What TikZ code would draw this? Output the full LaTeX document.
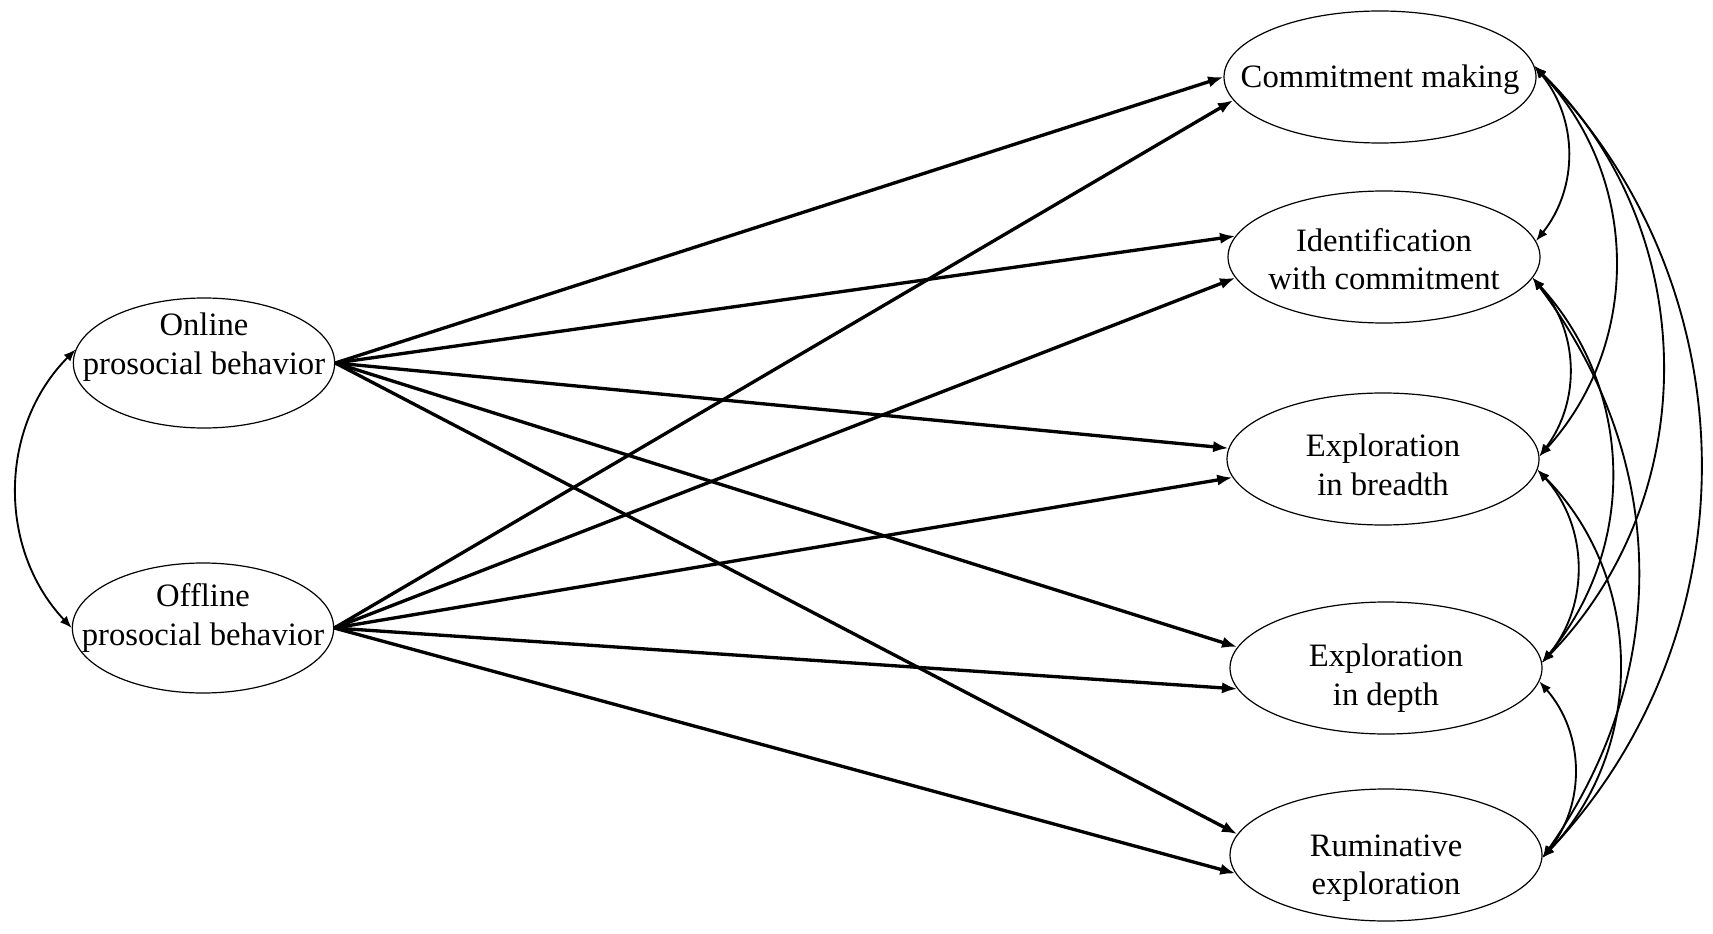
\documentclass[tikz,border=0pt]{standalone}
\usepackage{fontspec}
\setmainfont{Liberation Serif}
\usetikzlibrary{arrows.meta,shapes.geometric}
\begin{document}
\begin{tikzpicture}[x=0.75pt,y=0.75pt,
  font=\fontsize{24.5}{29}\selectfont,
  lat/.style={ellipse,draw,line width=0.9pt,inner sep=0pt},
  latL/.style={lat,minimum width=196pt,minimum height=97.5pt},
  latR/.style={lat,minimum width=234pt,minimum height=99pt},
  regarrow/.style={line width=2.5pt,-{Latex[length=11.5pt,width=8.5pt]}},
  covarrow/.style={line width=1.4pt,{Latex[length=9pt,width=7pt]}-{Latex[length=9pt,width=7pt]}},
  lbl/.style 2 args={label={[align=center,yshift=#2]center:#1}}
]
\useasboundingbox (0,0) rectangle (1713,-934);

% latent variables
\node[latL,lbl={Online\\prosocial behavior}{12pt}] (on) at (204,-363) {};
\node[latL,lbl={Offline\\prosocial behavior}{7.5pt}] (off) at (203,-628) {};

\node[latR,lbl={Commitment making}{-2.25pt}] (cm) at (1380,-77) {};
\node[latR,lbl={Identification\\with commitment}{-1.5pt}] (id) at (1384,-257) {};
\node[latR,lbl={Exploration\\in breadth}{-4.5pt}] (eb) at (1383,-459) {};
\node[latR,lbl={Exploration\\in depth}{-7.5pt}] (ed) at (1386,-668) {};
\node[latR,lbl={Ruminative\\exploration}{-9.75pt}] (re) at (1386,-855) {};

% regression paths
\draw[regarrow] (on.east) -- (cm.180);
\draw[regarrow] (off.east) -- (cm.189);
\draw[regarrow] (on.east) -- (id.172.5);
\draw[regarrow] (off.east) -- (id.188);
\draw[regarrow] (on.east) -- (eb.176.5);
\draw[regarrow] (off.east) -- (eb.187);
\draw[regarrow] (on.east) -- (ed.172);
\draw[regarrow] (off.east) -- (ed.188);
\draw[regarrow] (on.east) -- (re.172);
\draw[regarrow] (off.east) -- (re.187);

% covariances
\draw[covarrow] (on.174) to[bend right=44] (off.180);

\draw[covarrow] (cm.4) to[bend left=39] (id.6);
\draw[covarrow] (cm.4) to[bend left=43] (eb.1);
\draw[covarrow] (cm.4) to[bend left=45] (ed.2);
\draw[covarrow] (cm.4) to[bend left=44] (re.-1);
\draw[covarrow] (id.-8) to[bend left=39] (eb.1);
\draw[covarrow] (id.-8) to[bend left=41] (ed.2);
\draw[covarrow] (id.-8) to[bend left=36] (re.-1);
\draw[covarrow] (eb.-4) to[bend left=41] (ed.2);
\draw[covarrow] (eb.-4) to[bend left=44] (re.-1);
\draw[covarrow] (ed.-5) to[bend left=40] (re.-1);
\end{tikzpicture}
\end{document}
